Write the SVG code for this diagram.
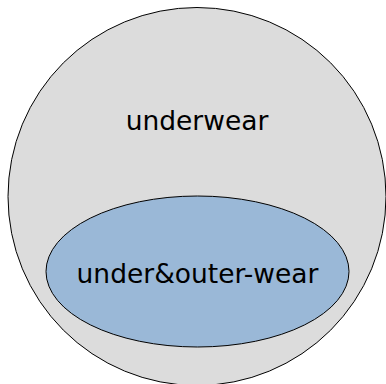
<svg xmlns="http://www.w3.org/2000/svg" width="386" height="384" viewBox="0 0 386 384">
<style>
.shape{stroke:#000;stroke-width:1}
.lbl{font-family:"DejaVu Sans",sans-serif;font-size:26.5px;fill:#000;text-anchor:middle}
</style>
<rect width="386" height="384" fill="#fff"/>
<g id="underwear">
<circle class="shape" cx="197" cy="196.5" r="189" fill="#dcdcdc"/>
<text class="lbl" x="197" y="129.5">underwear</text>
</g>
<g id="under-outer-wear">
<ellipse class="shape" cx="197.5" cy="271.5" rx="151.5" ry="75.5" fill="#9ab8d7"/>
<text class="lbl" x="197.5" y="282.5">under&amp;outer-wear</text>
</g>
<g id="connectors"/>
</svg>
